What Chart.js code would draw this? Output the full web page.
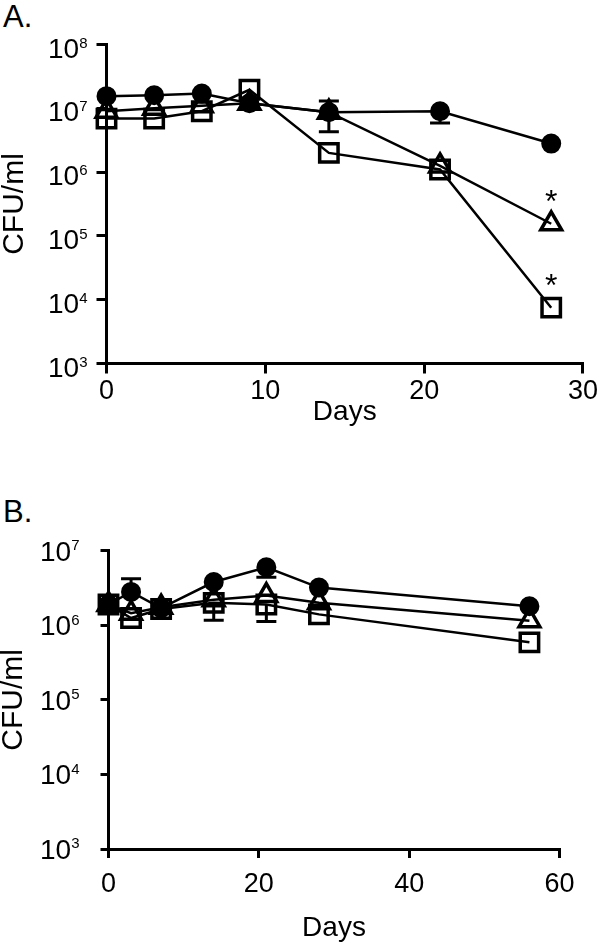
<!DOCTYPE html>
<html>
<head>
<meta charset="utf-8">
<script src="https://cdn.jsdelivr.net/npm/chart.js@4.4.1/dist/chart.umd.min.js"></script>
<style>
  html, body { margin:0; padding:0; background:#fff; }
  body { width:600px; height:945px; position:relative; overflow:hidden; font-family:"Liberation Sans", Arial, Helvetica, sans-serif; }
  .cv { position:absolute; left:0; }
  .panel { position:absolute; left:3px; font-size:31px; line-height:31px; color:#000; }
</style>
</head>
<body>
<div class="panel" style="top:1px">A.</div>
<div class="panel" style="top:496px">B.</div>
<canvas id="chartA" class="cv" style="top:0" width="600" height="470"></canvas>
<canvas id="chartB" class="cv" style="top:470px" width="600" height="475"></canvas>
<script>
const FONT = '"Liberation Sans", Arial, Helvetica, sans-serif';

// ---------- Panel A data ----------
const daysA      = [0, 3, 6, 9, 14, 21, 28];
const circleA    = [1.55e7, 1.6e7, 1.7e7, 1.2e7, 8.7e6, 9.0e6, 2.8e6];
const triangleA  = [9.0e6, 1.0e7, 1.1e7, 1.2e7, 8.7e6, 1.25e6, 1.55e5];
const squareA    = [6.9e6, 6.9e6, 9.0e6, 1.95e7, 2.0e6, 1.1e6, 7.5e3];
const circleALow    = [null, null, null, null, null, 5.9e6, null];
const circleAHigh   = [null, null, null, null, null, null, null];
const triangleALow  = [null, null, null, null, 4.3e6, null, null];
const triangleAHigh = [null, null, null, null, 1.3e7, null, null];
const triangleASig  = [false, false, false, false, false, false, true];
const squareASig    = [false, false, false, false, false, false, true];
const xTicksA = [0, 10, 20, 30];
const yTicksA = [1e3, 1e4, 1e5, 1e6, 1e7, 1e8];

// ---------- Panel B data ----------
const daysB      = [0, 3, 7, 14, 21, 28, 56];
const circleB    = [1.9e6, 2.8e6, 1.7e6, 3.8e6, 6.0e6, 3.2e6, 1.8e6];
const triangleB  = [1.9e6, 1.45e6, 1.75e6, 2.2e6, 2.5e6, 2.0e6, 1.15e6];
const squareB    = [1.9e6, 1.25e6, 1.65e6, 2.0e6, 1.9e6, 1.4e6, 5.9e5];
const circleBLow  = [null, null, null, null, 4.4e6, null, null];
const circleBHigh = [null, 4.2e6, null, null, null, null, null];
const squareBLow  = [null, null, null, 1.17e6, 1.12e6, null, null];
const xTicksB = [0, 20, 40, 60];
const yTicksB = [1e3, 1e4, 1e5, 1e6, 1e7];

// ---------- helpers ----------
function series(days, vals) { return days.map((d, i) => ({ x: d, y: vals[i] })); }

const MARK = {
  circle:   { pointStyle: 'circle',   pointRadius: 9,  pointBorderWidth: 2,   pointBackgroundColor: '#000' },
  triangle: { pointStyle: 'triangle', pointRadius: 12, pointBorderWidth: 3.5, pointBackgroundColor: 'rgba(0,0,0,0)' },
  square:   { pointStyle: 'rect',     pointRadius: 13, pointBorderWidth: 3.5, pointBackgroundColor: 'rgba(0,0,0,0)' }
};

function makeDataset(kind, days, vals, low, high, sig) {
  return Object.assign({
    label: kind,
    data: series(days, vals),
    showLine: true,
    borderColor: '#000',
    borderWidth: 2.5,
    pointBorderColor: '#000',
    pointHoverRadius: MARK[kind].pointRadius,
    clip: false,
    tension: 0,
    errLow: low || null,
    errHigh: high || null,
    sig: sig || null
  }, MARK[kind]);
}

const decorPlugin = {
  id: 'decor',
  beforeDatasetsDraw(chart) {
    const ctx = chart.ctx, xs = chart.scales.x, ys = chart.scales.y;
    ctx.save();
    ctx.strokeStyle = '#000';
    ctx.lineWidth = 3;
    chart.data.datasets.forEach(ds => {
      ds.data.forEach((pt, i) => {
        const px = xs.getPixelForValue(pt.x), py = ys.getPixelForValue(pt.y);
        [ds.errLow, ds.errHigh].forEach(arr => {
          if (!arr || arr[i] == null) return;
          const ey = ys.getPixelForValue(arr[i]);
          ctx.beginPath();
          ctx.moveTo(px, py); ctx.lineTo(px, ey);
          ctx.moveTo(px - 10, ey); ctx.lineTo(px + 10, ey);
          ctx.stroke();
        });
      });
    });
    ctx.restore();
  },
  afterDatasetsDraw(chart, args, o) {
    const ctx = chart.ctx;
    ctx.save();
    ctx.fillStyle = '#000';
    ctx.textAlign = 'center';
    ctx.textBaseline = 'alphabetic';
    ctx.font = o.starSize + 'px ' + FONT;
    chart.data.datasets.forEach((ds, di) => {
      if (!ds.sig) return;
      const meta = chart.getDatasetMeta(di);
      ds.sig.forEach((flag, i) => {
        if (!flag) return;
        const el = meta.data[i];
        ctx.fillText('*', el.x, el.y - o.starOffset + 0.58 * o.starSize);
      });
    });
    ctx.restore();
  },
  afterDraw(chart, args, o) {
    const ys = chart.scales.y, ctx = chart.ctx;
    ctx.save();
    ctx.fillStyle = '#000';
    ctx.textBaseline = 'alphabetic';
    ctx.textAlign = 'left';
    ys.ticks.forEach(t => {
      const py = ys.getPixelForValue(t.value);
      const exp = String(Math.round(Math.log10(t.value)));
      ctx.font = o.expSize + 'px ' + FONT;
      const we = ctx.measureText(exp).width;
      ctx.font = o.baseSize + 'px ' + FONT;
      const wb = ctx.measureText('10').width;
      ctx.fillText('10', o.labelRight - we - wb, py + o.baseDy);
      ctx.font = o.expSize + 'px ' + FONT;
      ctx.fillText(exp, o.labelRight - we, py + o.expDy);
    });
    ctx.restore();
  }
};

function buildChart(id, p) {
  return new Chart(document.getElementById(id), {
    type: 'scatter',
    data: { datasets: p.datasets },
    plugins: [decorPlugin],
    options: {
      responsive: false,
      animation: false,
      devicePixelRatio: 1,
      layout: { padding: { left: 0, right: p.padRight, top: p.padTop, bottom: p.padBottom } },
      plugins: {
        legend: { display: false },
        tooltip: { enabled: false },
        decor: p.decor
      },
      scales: {
        x: {
          type: 'linear', min: p.xMin, max: p.xMax,
          afterBuildTicks: s => { s.ticks = p.xTicks.map(v => ({ value: v })); },
          afterFit: s => { s.height = p.xHeight; },
          grid: { display: true, drawOnChartArea: false, drawTicks: true, tickLength: p.xTickLen,
                  tickColor: '#000', tickWidth: 3, color: '#000', lineWidth: 3 },
          border: { display: true, color: '#000', width: 3 },
          ticks: { color: '#000', font: { family: FONT, size: 27 }, padding: p.xTickPad,
                   maxRotation: 0, autoSkip: false },
          title: { display: true, text: 'Days', color: '#000',
                   font: { family: FONT, size: 28, lineHeight: 1.2 }, padding: { top: 0, bottom: p.daysPad } }
        },
        y: {
          type: 'logarithmic', min: p.yMin, max: p.yMax,
          afterBuildTicks: s => { s.ticks = p.yTicks.map(v => ({ value: v })); },
          afterFit: s => { s.width = p.yWidth; },
          grid: { display: true, drawOnChartArea: false, drawTicks: true, tickLength: p.yTickLen,
                  tickColor: '#000', tickWidth: 3, color: '#000', lineWidth: 3 },
          border: { display: true, color: '#000', width: 3 },
          ticks: { display: false },
          title: { display: true, text: 'CFU/ml', color: '#000',
                   font: { family: FONT, size: 30, lineHeight: 1 }, padding: { top: p.cfuPad, bottom: 0 } }
        }
      }
    }
  });
}

buildChart('chartA', {
  datasets: [
    makeDataset('circle',   daysA, circleA,   circleALow,   circleAHigh,   null),
    makeDataset('triangle', daysA, triangleA, triangleALow, triangleAHigh, triangleASig),
    makeDataset('square',   daysA, squareA,   null,         null,          squareASig)
  ],
  xMin: 0, xMax: 30, xTicks: xTicksA,
  yMin: 1e3, yMax: 1e8, yTicks: yTicksA,
  padRight: 14, padTop: 44.5, padBottom: 40,
  xHeight: 66.5, yWidth: 106.5,
  xTickLen: 10, yTickLen: 10, xTickPad: 2, daysPad: 0.6, cfuPad: 0,
  decor: { labelRight: 87.5, baseSize: 28, expSize: 15, baseDy: 13, expDy: 3, starSize: 32, starOffset: 30 }
});

buildChart('chartB', {
  datasets: [
    makeDataset('circle',   daysB, circleB,   circleBLow, circleBHigh, null),
    makeDataset('triangle', daysB, triangleB, null,       null,        null),
    makeDataset('square',   daysB, squareB,   squareBLow, null,        null)
  ],
  xMin: 0, xMax: 60, xTicks: xTicksB,
  yMin: 1e3, yMax: 1e7, yTicks: yTicksB,
  padRight: 40.5, padTop: 80.7, padBottom: 0,
  xHeight: 96, yWidth: 108.5,
  xTickLen: 9, yTickLen: 8, xTickPad: 10, daysPad: 0, cfuPad: -1,
  decor: { labelRight: 79.5, baseSize: 28, expSize: 15, baseDy: 10, expDy: -0.7, starSize: 32, starOffset: 30 }
});
</script>
</body>
</html>
